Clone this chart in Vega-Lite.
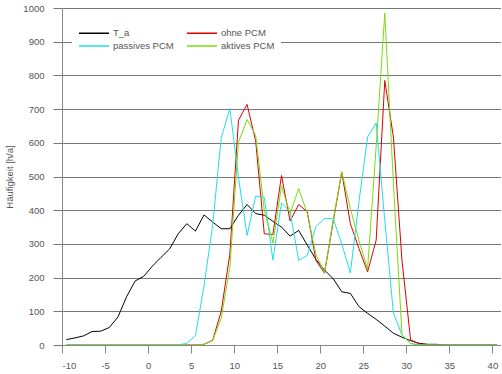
{
  "$schema": "https://vega.github.io/schema/vega-lite/v6.json",
  "autosize": {"type": "none"},
  "padding": {"left": 62, "top": 8, "right": 0, "bottom": 29},
  "width": 439,
  "height": 337,
  "background": "white",
  "config": {
    "view": {"stroke": null},
    "font": "Liberation Sans"
  },
  "data": {
    "values": [
      {"x": -9.5, "T_a": 16, "ohne PCM": 0, "passives PCM": 0, "aktives PCM": 0},
      {"x": -8.5, "T_a": 21, "ohne PCM": 0, "passives PCM": 0, "aktives PCM": 0},
      {"x": -7.5, "T_a": 27, "ohne PCM": 0, "passives PCM": 0, "aktives PCM": 0},
      {"x": -6.5, "T_a": 40, "ohne PCM": 0, "passives PCM": 0, "aktives PCM": 0},
      {"x": -5.5, "T_a": 41, "ohne PCM": 0, "passives PCM": 0, "aktives PCM": 0},
      {"x": -4.5, "T_a": 52, "ohne PCM": 0, "passives PCM": 0, "aktives PCM": 0},
      {"x": -3.5, "T_a": 83, "ohne PCM": 0, "passives PCM": 0, "aktives PCM": 0},
      {"x": -2.5, "T_a": 143, "ohne PCM": 0, "passives PCM": 0, "aktives PCM": 0},
      {"x": -1.5, "T_a": 190, "ohne PCM": 0, "passives PCM": 0, "aktives PCM": 0},
      {"x": -0.5, "T_a": 204, "ohne PCM": 0, "passives PCM": 0, "aktives PCM": 0},
      {"x": 0.5, "T_a": 234, "ohne PCM": 0, "passives PCM": 0, "aktives PCM": 0},
      {"x": 1.5, "T_a": 260, "ohne PCM": 0, "passives PCM": 0, "aktives PCM": 0},
      {"x": 2.5, "T_a": 285, "ohne PCM": 0, "passives PCM": 0, "aktives PCM": 0},
      {"x": 3.5, "T_a": 330, "ohne PCM": 0, "passives PCM": 0, "aktives PCM": 0},
      {"x": 4.5, "T_a": 360, "ohne PCM": 0, "passives PCM": 5, "aktives PCM": 0},
      {"x": 5.5, "T_a": 338, "ohne PCM": 0, "passives PCM": 28, "aktives PCM": 0},
      {"x": 6.5, "T_a": 386, "ohne PCM": 2, "passives PCM": 175, "aktives PCM": 2},
      {"x": 7.5, "T_a": 365, "ohne PCM": 14, "passives PCM": 355, "aktives PCM": 13},
      {"x": 8.5, "T_a": 345, "ohne PCM": 100, "passives PCM": 615, "aktives PCM": 80},
      {"x": 9.5, "T_a": 345, "ohne PCM": 270, "passives PCM": 702, "aktives PCM": 230},
      {"x": 10.5, "T_a": 385, "ohne PCM": 667, "passives PCM": 498, "aktives PCM": 602},
      {"x": 11.5, "T_a": 417, "ohne PCM": 714, "passives PCM": 325, "aktives PCM": 669},
      {"x": 12.5, "T_a": 390, "ohne PCM": 605, "passives PCM": 442, "aktives PCM": 622},
      {"x": 13.5, "T_a": 385, "ohne PCM": 330, "passives PCM": 438, "aktives PCM": 400},
      {"x": 14.5, "T_a": 367, "ohne PCM": 328, "passives PCM": 252, "aktives PCM": 303},
      {"x": 15.5, "T_a": 350, "ohne PCM": 503, "passives PCM": 422, "aktives PCM": 472},
      {"x": 16.5, "T_a": 323, "ohne PCM": 368, "passives PCM": 395, "aktives PCM": 390},
      {"x": 17.5, "T_a": 340, "ohne PCM": 417, "passives PCM": 251, "aktives PCM": 464},
      {"x": 18.5, "T_a": 296, "ohne PCM": 395, "passives PCM": 266, "aktives PCM": 390},
      {"x": 19.5, "T_a": 254, "ohne PCM": 251, "passives PCM": 352, "aktives PCM": 268},
      {"x": 20.5, "T_a": 222, "ohne PCM": 213, "passives PCM": 375, "aktives PCM": 215},
      {"x": 21.5, "T_a": 197, "ohne PCM": 365, "passives PCM": 375, "aktives PCM": 370},
      {"x": 22.5, "T_a": 158, "ohne PCM": 513, "passives PCM": 300, "aktives PCM": 514},
      {"x": 23.5, "T_a": 153, "ohne PCM": 360, "passives PCM": 214, "aktives PCM": 405},
      {"x": 24.5, "T_a": 114, "ohne PCM": 286, "passives PCM": 425, "aktives PCM": 310},
      {"x": 25.5, "T_a": 94, "ohne PCM": 217, "passives PCM": 617, "aktives PCM": 225},
      {"x": 26.5, "T_a": 76, "ohne PCM": 311, "passives PCM": 659, "aktives PCM": 590},
      {"x": 27.5, "T_a": 56, "ohne PCM": 785, "passives PCM": 370, "aktives PCM": 985},
      {"x": 28.5, "T_a": 35, "ohne PCM": 617, "passives PCM": 95, "aktives PCM": 480},
      {"x": 29.5, "T_a": 23, "ohne PCM": 250, "passives PCM": 30, "aktives PCM": 30},
      {"x": 30.5, "T_a": 13, "ohne PCM": 15, "passives PCM": 5, "aktives PCM": 4},
      {"x": 31.5, "T_a": 5, "ohne PCM": 3, "passives PCM": 0, "aktives PCM": 0},
      {"x": 32.5, "T_a": 2, "ohne PCM": 0, "passives PCM": 0, "aktives PCM": 0},
      {"x": 33.5, "T_a": 2, "ohne PCM": 0, "passives PCM": 0, "aktives PCM": 0},
      {"x": 34.5, "T_a": 0, "ohne PCM": 0, "passives PCM": 0, "aktives PCM": 0},
      {"x": 35.5, "T_a": 0, "ohne PCM": 0, "passives PCM": 0, "aktives PCM": 0},
      {"x": 36.5, "T_a": 0, "ohne PCM": 0, "passives PCM": 0, "aktives PCM": 0},
      {"x": 37.5, "T_a": 0, "ohne PCM": 0, "passives PCM": 0, "aktives PCM": 0},
      {"x": 38.5, "T_a": 0, "ohne PCM": 0, "passives PCM": 0, "aktives PCM": 0},
      {"x": 39.5, "T_a": 0, "ohne PCM": 0, "passives PCM": 0, "aktives PCM": 0},
      {"x": 40.5, "T_a": 0, "ohne PCM": 0, "passives PCM": 0, "aktives PCM": 0}
    ]
  },
  "transform": [
    {"fold": ["T_a", "ohne PCM", "passives PCM", "aktives PCM"], "as": ["serie", "wert"]}
  ],
  "mark": {"type": "line", "strokeWidth": 1, "clip": true},
  "encoding": {
    "x": {
      "field": "x", "type": "quantitative",
      "scale": {"domain": [-10, 41], "nice": false, "zero": false},
      "axis": {
        "values": [-10, -5, 0, 5, 10, 15, 20, 25, 30, 35, 40],
        "labelExpr": "replace(datum.label, '−', '-')",
        "title": null, "grid": false,
        "domainColor": "#888", "tickColor": "#888", "tickSize": 8,
        "labelColor": "#555", "labelFontSize": 9.5, "labelPadding": 7,
        "labelFont": "Liberation Sans"
      }
    },
    "y": {
      "field": "wert", "type": "quantitative",
      "scale": {"domain": [0, 1000], "nice": false},
      "axis": {
        "values": [0, 100, 200, 300, 400, 500, 600, 700, 800, 900, 1000],
        "format": "d",
        "title": "Häufigkeit [h/a]", "titleColor": "#555", "titleFontSize": 9.5,
        "titleFontWeight": "normal", "titleFont": "Liberation Sans", "titlePadding": 8,
        "grid": true, "gridColor": "#777", "gridWidth": 1,
        "domainColor": "#888", "tickColor": "#777", "tickSize": 9,
        "labelColor": "#555", "labelFontSize": 9.5, "labelPadding": 9,
        "labelFont": "Liberation Sans"
      }
    },
    "color": {
      "field": "serie", "type": "nominal",
      "scale": {
        "domain": ["T_a", "passives PCM", "ohne PCM", "aktives PCM"],
        "range": ["#000000", "#22dde8", "#dd0000", "#77dd11"]
      },
      "legend": {
        "title": null, "orient": "none", "legendX": 10, "legendY": 13,
        "columns": 2, "columnPadding": 10, "rowPadding": 2,
        "symbolType": "M-1,0H5", "symbolSize": 100, "symbolStrokeWidth": 1.5,
        "labelFontSize": 9.5, "labelColor": "#555", "labelFont": "Liberation Sans",
        "labelOffset": 23, "fillColor": "white", "padding": 6
      }
    },
    "order": {"field": "x", "type": "quantitative"}
  }
}
